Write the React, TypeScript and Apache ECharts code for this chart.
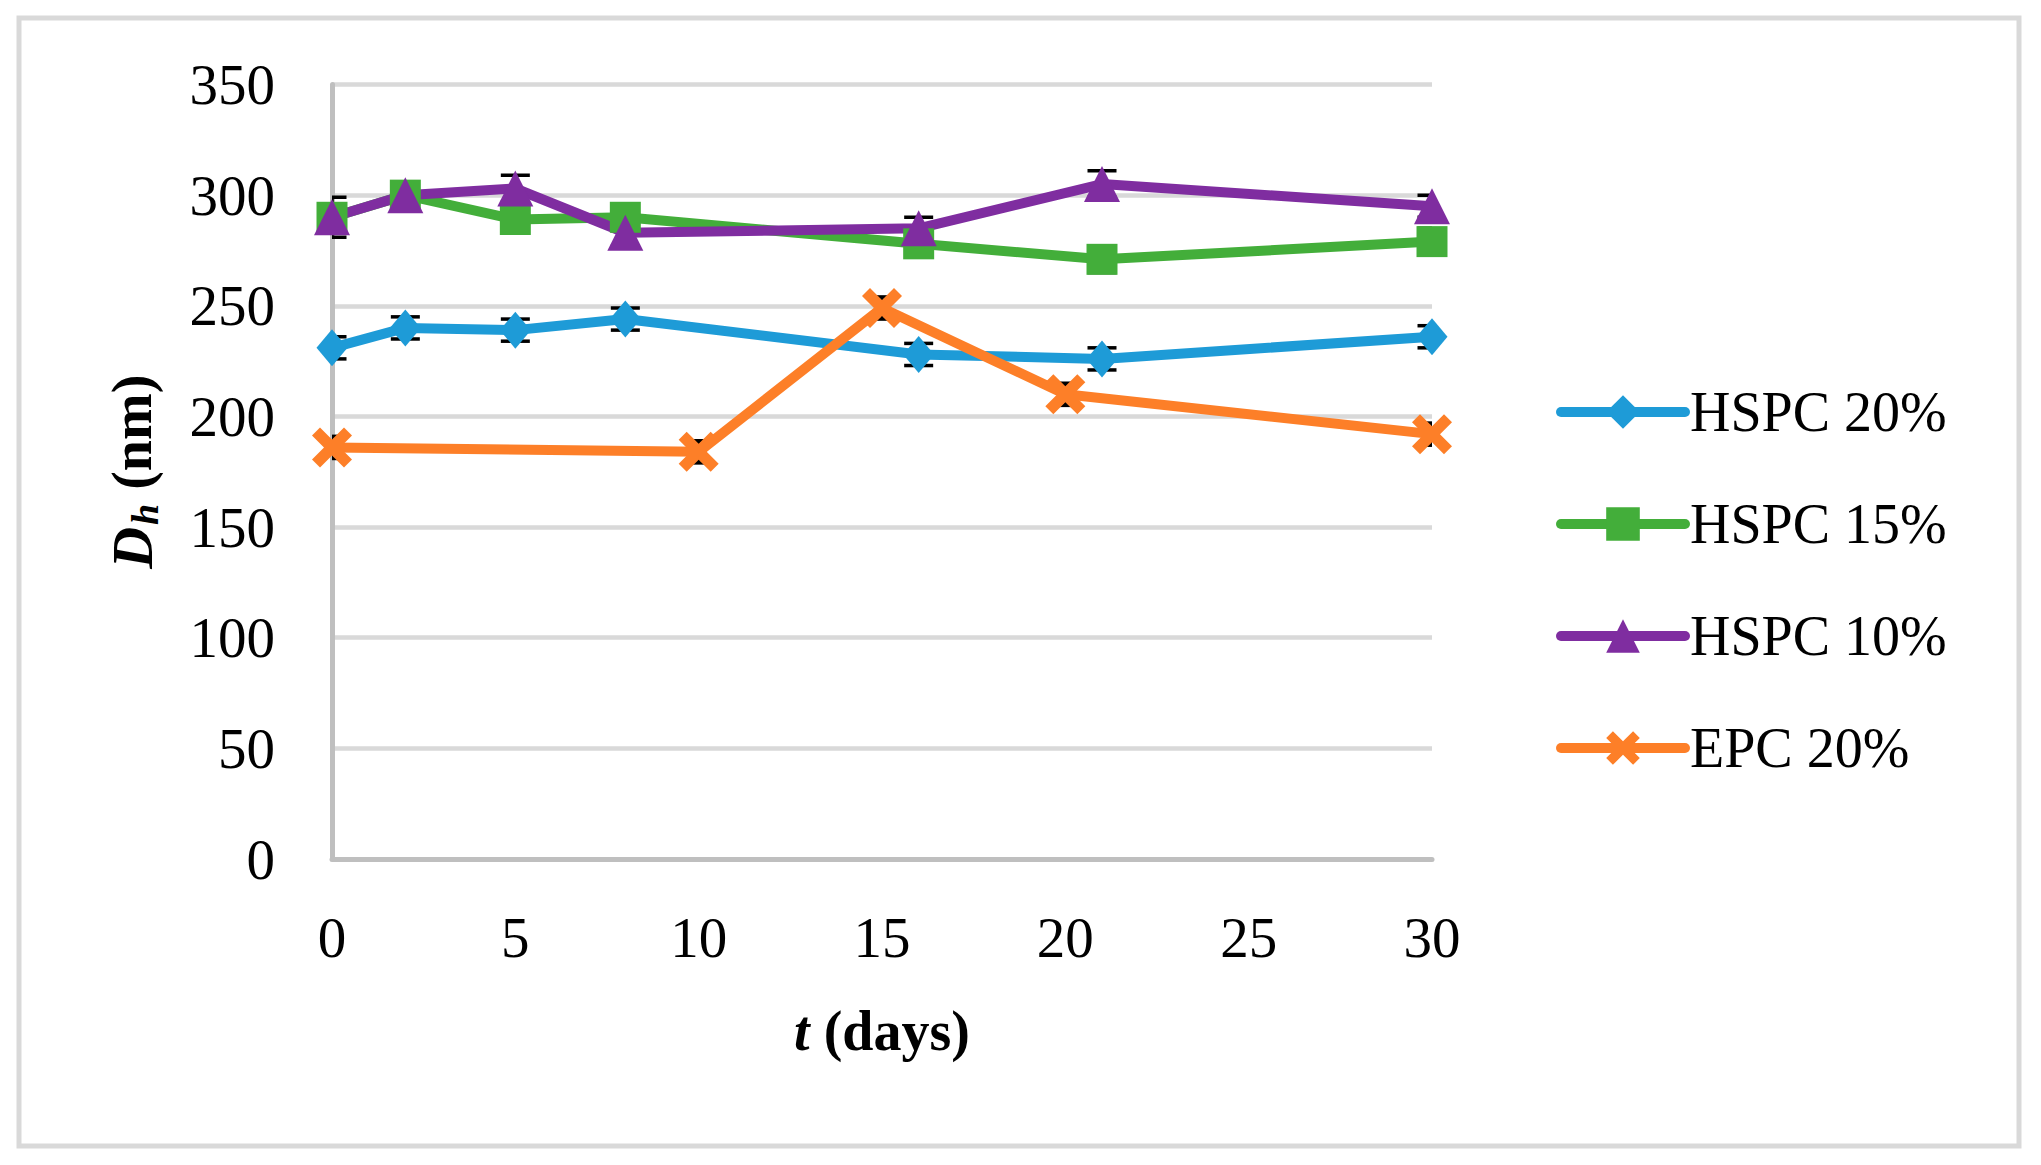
import React, { useEffect, useRef } from "react";
import * as echarts from "echarts";

const seriesNames = ["HSPC 20%", "HSPC 15%", "HSPC 10%", "EPC 20%"];
const colors = ["#1E9BD7", "#43AE3A", "#7F2DA0", "#FD7F28"];

const hspc20Days = [0, 2, 5, 8, 16, 21, 30];
const hspc20Values = [231, 240, 239, 244, 228, 226, 236];
const hspc20Errors = [5, 5, 5, 5, 5, 5, 5];

const hspc15Days = [0, 2, 5, 8, 16, 21, 30];
const hspc15Values = [290, 300, 289, 290, 278, 271, 279];
const hspc15Errors = [6, 6, 6, 6, 6, 6, 6];

const hspc10Days = [0, 2, 5, 8, 16, 21, 30];
const hspc10Values = [290, 300, 303, 283, 285, 305, 295];
const hspc10Errors = [9, 6, 6, 6, 5, 6, 5];

const epc20Days = [0, 10, 15, 20, 30];
const epc20Values = [186, 184, 249, 210, 192];
const epc20Errors = [5, 5, 5, 5, 5];

const xTicks = { min: 0, max: 30, interval: 5 };
const yTicks = { min: 0, max: 350, interval: 50 };

const FONT = "'Liberation Serif', 'Times New Roman', serif";
const X_SYMBOL =
  "path://M2,0 L5,3 L8,0 L10,2 L7,5 L10,8 L8,10 L5,7 L2,10 L0,8 L3,5 L0,2 Z";

const zip = (xs: number[], ys: number[]) => xs.map((x, i) => [x, ys[i]]);
const zip3 = (xs: number[], ys: number[], es: number[]) =>
  xs.map((x, i) => [x, ys[i], es[i]]);

function errorSeries(data: number[][]) {
  return {
    type: "custom",
    silent: true,
    z: 1,
    clip: true,
    data,
    encode: { x: 0, y: 1 },
    renderItem: (params: any, api: any) => {
      const x = api.value(0);
      const v = api.value(1);
      const e = api.value(2);
      const top = api.coord([x, v + e]);
      const bot = api.coord([x, v - e]);
      const half = 14.5;
      const style = { stroke: "#000", lineWidth: 3.5 };
      return {
        type: "group",
        children: [
          { type: "line", shape: { x1: top[0], y1: top[1], x2: bot[0], y2: bot[1] }, style },
          { type: "line", shape: { x1: top[0] - half, y1: top[1], x2: top[0] + half, y2: top[1] }, style },
          { type: "line", shape: { x1: bot[0] - half, y1: bot[1], x2: bot[0] + half, y2: bot[1] }, style },
        ],
      };
    },
  };
}

function lineSeries(name: string, color: string, data: number[][], symbol: string, size: any) {
  return {
    name,
    type: "line",
    z: 3,
    data,
    symbol,
    symbolSize: size,
    showAllSymbol: true,
    clip: false,
    lineStyle: { color, width: 10 },
    itemStyle: { color },
  };
}

export default function App() {
  const ref = useRef<HTMLDivElement>(null);
  useEffect(() => {
    if (!ref.current) return;
    const chart = echarts.init(ref.current, undefined, { renderer: "svg" });
    chart.setOption({
      animation: false,
      backgroundColor: "#ffffff",
      textStyle: { fontFamily: FONT },
      graphic: [
        {
          type: "rect",
          shape: { x: 19, y: 18, width: 2000, height: 1128 },
          style: { fill: "none", stroke: "#d9d9d9", lineWidth: 5 },
          silent: true,
        },
      ],
      grid: { left: 332, right: 609, top: 84.5, bottom: 306, containLabel: false },
      legend: {
        orient: "vertical",
        left: 1551,
        top: 379,
        itemWidth: 124,
        itemHeight: 42,
        itemGap: 56,
        data: seriesNames,
        lineStyle: { width: 10, cap: "round" },
        textStyle: { fontFamily: FONT, fontSize: 56, color: "#000", lineHeight: 56, padding: [0, 0, 0, 0] },
      },
      xAxis: {
        type: "value",
        min: xTicks.min,
        max: xTicks.max,
        interval: xTicks.interval,
        name: "{t|t}{d| (days)}",
        nameLocation: "middle",
        nameGap: 144,
        nameTextStyle: {
          rich: {
            t: { fontFamily: FONT, fontSize: 56, fontWeight: "bold", fontStyle: "italic", color: "#000" },
            d: { fontFamily: FONT, fontSize: 56, fontWeight: "bold", color: "#000" },
          },
        },
        axisLine: { show: true, lineStyle: { color: "#bfbfbf", width: 5 } },
        axisTick: { show: false },
        splitLine: { show: false },
        axisLabel: { fontFamily: FONT, fontSize: 57, color: "#000", margin: 50 },
      },
      yAxis: {
        type: "value",
        min: yTicks.min,
        max: yTicks.max,
        interval: yTicks.interval,
        name: "{d|D}{h|h}{n| (nm)}",
        nameLocation: "middle",
        nameGap: 168,
        nameTextStyle: {
          rich: {
            d: { fontFamily: FONT, fontSize: 58, fontWeight: "bold", fontStyle: "italic", color: "#000" },
            h: { fontFamily: FONT, fontSize: 38, fontWeight: "bold", fontStyle: "italic", color: "#000", padding: [26, 0, 0, 2] },
            n: { fontFamily: FONT, fontSize: 56, fontWeight: "bold", color: "#000" },
          },
        },
        axisLine: { show: true, lineStyle: { color: "#bfbfbf", width: 5 } },
        axisTick: { show: false },
        splitLine: { show: true, lineStyle: { color: "#d9d9d9", width: 4.5 } },
        axisLabel: { fontFamily: FONT, fontSize: 57, color: "#000", margin: 57 },
      },
      series: [
        errorSeries(zip3(hspc20Days, hspc20Values, hspc20Errors)),
        errorSeries(zip3(hspc15Days, hspc15Values, hspc15Errors)),
        errorSeries(zip3(hspc10Days, hspc10Values, hspc10Errors)),
        errorSeries(zip3(epc20Days, epc20Values, epc20Errors)),
        lineSeries(seriesNames[0], colors[0], zip(hspc20Days, hspc20Values), "diamond", [31, 37]),
        lineSeries(seriesNames[1], colors[1], zip(hspc15Days, hspc15Values), "rect", 31),
        lineSeries(seriesNames[2], colors[2], zip(hspc10Days, hspc10Values), "triangle", 36),
        lineSeries(seriesNames[3], colors[3], zip(epc20Days, epc20Values), X_SYMBOL, 40),
      ],
    });
    return () => chart.dispose();
  }, []);
  return (
    <div
      ref={ref}
      style={{ position: "fixed", left: 0, top: 0, width: 2041, height: 1165, background: "#fff" }}
    />
  );
}
